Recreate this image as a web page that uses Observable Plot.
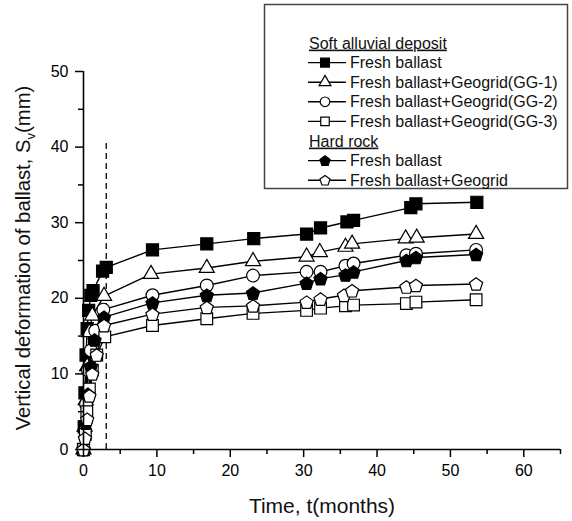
<!DOCTYPE html>
<html>
<head>
<meta charset="utf-8">
<script src="https://cdn.jsdelivr.net/npm/d3@7"></script>
<script src="https://cdn.jsdelivr.net/npm/@observablehq/plot@0.6"></script>
<style>
  html, body { margin: 0; padding: 0; background: #fff; }
  #chart svg { display: block; }
</style>
</head>
<body>
<div id="chart"></div>
<script>
// Settlement of ballast over time, six monitored sections (months, mm)
const softFreshT = [0, 0.1, 0.2, 0.35, 0.5, 0.7, 1.0, 1.3, 2.6, 3.1, 9.4, 16.8, 23.2, 30.4, 32.3, 35.9, 36.8, 44.6, 45.3, 53.6];
const softFreshV = [0, 3.0, 7.5, 12.5, 16.0, 18.4, 20.4, 21.0, 23.6, 24.1, 26.4, 27.2, 27.9, 28.5, 29.3, 30.1, 30.3, 32.0, 32.5, 32.7];

const softGG1T = [0, 0.15, 0.3, 0.5, 0.8, 1.2, 2.8, 9.2, 16.8, 23.1, 30.4, 32.2, 35.7, 36.6, 43.9, 45.4, 53.5];
const softGG1V = [0, 3.0, 6.5, 11.0, 15.5, 17.7, 20.3, 23.2, 24.0, 24.9, 25.5, 26.1, 26.8, 27.2, 27.9, 28.0, 28.5];

const softGG2T = [0, 0.2, 0.35, 0.6, 1.0, 1.6, 2.7, 9.4, 16.8, 23.1, 30.4, 32.3, 35.7, 36.8, 44.0, 45.3, 53.5];
const softGG2V = [0, 2.5, 6.0, 10.5, 13.1, 15.7, 18.5, 20.4, 21.7, 23.0, 23.5, 23.5, 24.3, 24.6, 25.7, 25.9, 26.4];

const softGG3T = [0, 0.25, 0.45, 0.8, 1.2, 1.8, 2.9, 9.4, 16.8, 23.1, 30.4, 32.3, 35.7, 36.8, 44.0, 45.3, 53.5];
const softGG3V = [0, 2.0, 5.0, 8.0, 10.5, 12.5, 14.9, 16.4, 17.3, 18.0, 18.4, 18.7, 19.0, 19.1, 19.3, 19.5, 19.8];

const hardFreshT = [0, 0.3, 0.6, 1.0, 1.5, 2.8, 9.4, 16.8, 23.1, 30.4, 32.3, 35.7, 36.8, 44.0, 45.3, 53.5];
const hardFreshV = [0, 3.5, 7.3, 11.0, 14.5, 17.5, 19.4, 20.4, 20.7, 22.0, 22.6, 23.1, 23.5, 25.0, 25.4, 25.8];

const hardGeoT = [0, 0.2, 0.5, 0.8, 1.2, 1.8, 2.8, 9.4, 16.8, 23.1, 30.4, 32.3, 35.5, 36.6, 44.0, 45.3, 53.5];
const hardGeoV = [0, 1.5, 4.0, 7.1, 10.0, 12.5, 16.4, 17.9, 18.8, 19.0, 19.5, 19.9, 20.4, 21.0, 21.5, 21.7, 21.9];

const xMajorTicks = [0, 10, 20, 30, 40, 50, 60];
const xMinorTicks = [5, 15, 25, 35, 45, 55, 65];
const yMajorTicks = [0, 10, 20, 30, 40, 50];
const yMinorTicks = [5, 15, 25, 35, 45];
const transitionMonth = 3.1;   // dashed marker
const transitionTop = 41;

const groupTitles = ["Soft alluvial deposit", "Hard rock"];

// Regular pentagon, point up, for the hard rock sections
const pentagon = {
  draw(ctx, size) {
    const R = Math.sqrt(size / 2.3776);
    for (let i = 0; i < 5; i++) {
      const a = -Math.PI / 2 + i * 2 * Math.PI / 5;
      const px = R * Math.cos(a), py = R * Math.sin(a) + R * 0.1;
      if (i === 0) ctx.moveTo(px, py); else ctx.lineTo(px, py);
    }
    ctx.closePath();
  }
};

const series = [
  {group: 0, name: "Fresh ballast", t: softFreshT, v: softFreshV, symbol: "square", fill: "black", r: 6.8, lr: 5.0},
  {group: 0, name: "Fresh ballast+Geogrid(GG-1)", t: softGG1T, v: softGG1V, symbol: "triangle", fill: "white", r: 5.6, lr: 4.4},
  {group: 0, name: "Fresh ballast+Geogrid(GG-2)", t: softGG2T, v: softGG2V, symbol: "circle", fill: "white", r: 6.4, lr: 4.8},
  {group: 0, name: "Fresh ballast+Geogrid(GG-3)", t: softGG3T, v: softGG3V, symbol: "square", fill: "white", r: 6.6, lr: 4.8},
  {group: 1, name: "Fresh ballast", t: hardFreshT, v: hardFreshV, symbol: pentagon, fill: "black", r: 6.0, lr: 4.6},
  {group: 1, name: "Fresh ballast+Geogrid", t: hardGeoT, v: hardGeoV, symbol: pentagon, fill: "white", r: 6.0, lr: 4.6}
];

const rowsOf = s => s.t.map((t, i) => ({t, v: s.v[i]}));

const W = 572, H = 521;
const font = "Liberation Sans, Arial, Helvetica, sans-serif";

const marks = [
  Plot.ruleX([transitionMonth], {y1: 0, y2: transitionTop, stroke: "black", strokeWidth: 1.3, strokeDasharray: "6,4"}),
  ...series.map(s => Plot.line(rowsOf(s), {x: "t", y: "v", stroke: "black", strokeWidth: 1.4})),
  ...series.map(s => Plot.dot(rowsOf(s), {x: "t", y: "v", symbol: s.symbol, r: s.r, fill: s.fill, stroke: "black", strokeWidth: 1.2})),
  Plot.axisX(xMajorTicks, {tickSize: 8, tickPadding: 7, fontSize: 16, stroke: "black", fill: "black", strokeWidth: 1.5, label: null}),
  Plot.axisX(xMinorTicks, {tickSize: 5, text: null, stroke: "black", strokeWidth: 1.5, label: null}),
  Plot.axisY(yMajorTicks, {tickSize: 8, tickPadding: 7, fontSize: 16, stroke: "black", fill: "black", strokeWidth: 1.5, label: null}),
  Plot.axisY(yMinorTicks, {tickSize: 5, text: null, stroke: "black", strokeWidth: 1.5, label: null}),
  Plot.ruleY([0], {stroke: "black", strokeWidth: 1.6}),
  Plot.ruleX([0], {y1: 0, y2: 50, stroke: "black", strokeWidth: 1.6})
];

const plot = Plot.plot({
  width: W,
  height: H,
  marginLeft: 83,
  marginRight: 12,
  marginTop: 71,
  marginBottom: 72,
  style: {fontFamily: font, background: "white", color: "black", overflow: "visible"},
  x: {domain: [0, 65]},
  y: {domain: [0, 50]},
  marks
});

const svg = d3.select(plot);

// Axis titles
const yTitle = svg.append("text")
  .attr("transform", "translate(30,258) rotate(-90)")
  .attr("text-anchor", "middle")
  .attr("font-family", font)
  .attr("font-size", 20.3)
  .attr("fill", "#111");
yTitle.append("tspan").text("Vertical deformation of ballast, S");
yTitle.append("tspan").attr("font-size", 13).attr("dy", 5).text("v");
yTitle.append("tspan").attr("dy", -5).text("(mm)");

svg.append("text")
  .attr("x", 322).attr("y", 513)
  .attr("text-anchor", "middle")
  .attr("font-family", font)
  .attr("font-size", 21)
  .attr("fill", "#111")
  .text("Time, t(months)");

// Legend box
const lg = svg.append("g")
  .attr("font-family", font)
  .attr("font-size", 16)
  .attr("text-anchor", "start")
  .attr("fill", "#111");
lg.append("rect")
  .attr("x", 264.5).attr("y", 4.5).attr("width", 303).attr("height", 184)
  .attr("fill", "white").attr("stroke", "#444").attr("stroke-width", 1.5);

const rowY0 = 43, rowStep = 19.6;
let row = 0;
const symGen = d3.symbol();
groupTitles.forEach((title, g) => {
  const y = rowY0 + row * rowStep;
  lg.append("text").attr("x", 309).attr("y", y).attr("dy", "0.35em")
    .attr("text-decoration", "underline").text(title);
  row++;
  series.filter(s => s.group === g).forEach(s => {
    const yy = rowY0 + row * rowStep;
    lg.append("line").attr("x1", 308).attr("x2", 346).attr("y1", yy).attr("y2", yy)
      .attr("stroke", "black").attr("stroke-width", 1.4);
    const type = typeof s.symbol === "string"
      ? {square: d3.symbolSquare, triangle: d3.symbolTriangle, circle: d3.symbolCircle}[s.symbol]
      : s.symbol;
    lg.append("path")
      .attr("transform", `translate(325,${yy})`)
      .attr("d", symGen.type(type).size(Math.PI * s.lr * s.lr)())
      .attr("fill", s.fill).attr("stroke", "black").attr("stroke-width", 1.2);
    lg.append("text").attr("x", 350).attr("y", yy).attr("dy", "0.35em").text(s.name);
    row++;
  });
});

document.getElementById("chart").appendChild(plot);
</script>
</body>
</html>
